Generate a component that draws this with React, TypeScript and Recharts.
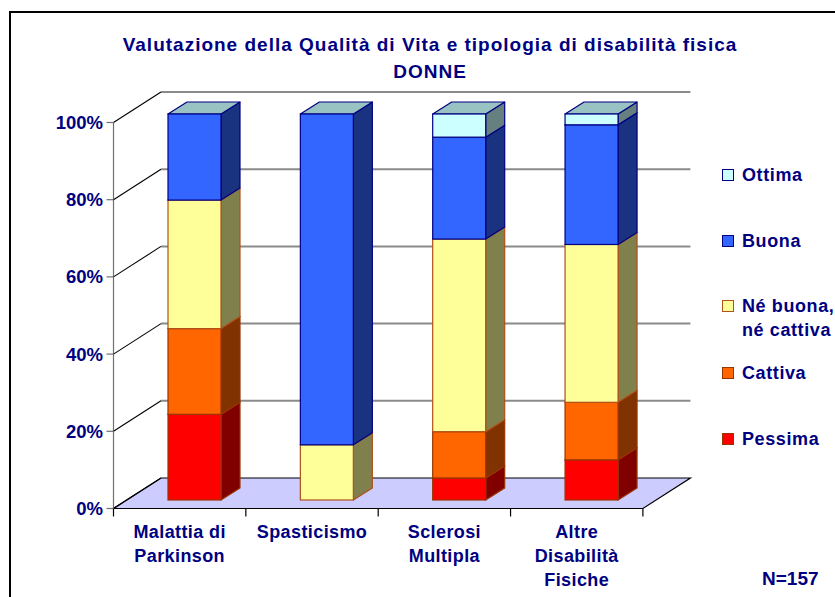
import React from 'react';
import { BarChart, Bar, XAxis, YAxis, CartesianGrid } from 'recharts';

// ---- data ----
const categories = ['Malattia di Parkinson', 'Spasticismo', 'Sclerosi Multipla', 'Altre Disabilità Fisiche'];
const categoryLines = [['Malattia di', 'Parkinson'], ['Spasticismo'], ['Sclerosi', 'Multipla'], ['Altre', 'Disabilità', 'Fisiche']];
const pessima = [22.2, 0, 5.7, 10.4];
const cattiva = [22.2, 0, 12.0, 14.9];
const neBuonaNeCattiva = [33.3, 14.3, 49.9, 40.9];
const buona = [22.3, 85.7, 26.4, 31.0];
const ottima = [0, 0, 6.0, 2.8];
const yTicks = [0, 20, 40, 60, 80, 100];
const yTickLabels = ['0%', '20%', '40%', '60%', '80%', '100%'];
const titleLine1 = 'Valutazione della Qualità di Vita e tipologia di disabilità fisica';
const titleLine2 = 'DONNE';
const sampleNote = 'N=157';

const seriesDefs = [
  { key: 'pessima', name: 'Pessima', values: pessima, front: '#FF0000', side: '#800000', stroke: '#993300' },
  { key: 'cattiva', name: 'Cattiva', values: cattiva, front: '#FF6600', side: '#803300', stroke: '#993300' },
  { key: 'ne', name: 'Né buona, né cattiva', legendLines: ['Né buona,', 'né cattiva'], values: neBuonaNeCattiva, front: '#FFFF99', side: '#80804D', stroke: '#B0501A' },
  { key: 'buona', name: 'Buona', values: buona, front: '#3366FF', side: '#1A3380', stroke: '#000080' },
  { key: 'ottima', name: 'Ottima', values: ottima, front: '#CCFFFF', side: '#668080', stroke: '#000080' },
];

const data = categories.map((c, i) => {
  const row: any = { name: c };
  seriesDefs.forEach((s) => { row[s.key] = s.values[i]; });
  return row;
});

// ---- 3D geometry offsets (relative to bar plane) ----
const FX = -14.5, FY = 8.5;   // front plane
const BX = 33, BY = -22;      // back wall plane
const DX = 19, DY = 12;       // bar depth
const TOP = '#99C2C2';
const NAVY = '#000080';
const FONT = '"Liberation Sans", Arial, sans-serif';

const make3D = (front: string, side: string, stroke: string) => (props: any) => {
  const { x, y, width, height } = props;
  if (!height || height <= 0.01) return <g />;
  const x0 = x, x1 = x + width, yt = y, yb = y + height;
  return (
    <g>
      <polygon points={`${x1},${yb} ${x1 + DX},${yb - DY} ${x1 + DX},${yt - DY} ${x1},${yt}`} fill={side} stroke={stroke} strokeWidth={1.2} strokeLinejoin="round" />
      <polygon points={`${x0},${yt} ${x0 + DX},${yt - DY} ${x1 + DX},${yt - DY} ${x1},${yt}`} fill={TOP} stroke={stroke} strokeWidth={1.2} strokeLinejoin="round" />
      <rect x={x0} y={yt} width={width} height={height} fill={front} stroke={stroke} strokeWidth={1.2} />
    </g>
  );
};

const gridLine = (props: any) => {
  const { x1, y1, x2, index } = props;
  const pts: number[] = props.horizontalPoints || [];
  const px = props.x ?? x1;
  const pw = props.width ?? (x2 - x1);
  const py = props.y ?? (pts.length ? Math.min(...pts) : y1);
  const ph = props.height ?? (pts.length ? Math.max(...pts) - Math.min(...pts) : 0);
  const bottom = py + ph;
  const isBottom = Math.abs(y1 - bottom) < 0.6;
  const n = categories.length;
  return (
    <g key={`gl-${index}`}>
      {isBottom && (
        <g>
          <polygon
            points={`${px + FX},${bottom + FY} ${px + pw + FX},${bottom + FY} ${px + pw + BX},${bottom + BY} ${px + BX},${bottom + BY}`}
            fill="#CCCCFF" stroke="#000" strokeWidth={1.2}
          />
          <line x1={px + FX} y1={py + FY} x2={px + FX} y2={bottom + FY} stroke="#707070" strokeWidth={1.2} />
          {Array.from({ length: n + 1 }).map((_, i) => (
            <line key={i} x1={px + FX + (pw * i) / n} y1={bottom + FY} x2={px + FX + (pw * i) / n} y2={bottom + FY + 8} stroke="#000" strokeWidth={1.2} />
          ))}
        </g>
      )}
      {!isBottom && (
        <line x1={px + BX} y1={y1 + BY} x2={px + pw + BX} y2={y1 + BY} stroke="#8a8a8a" strokeWidth={2} />
      )}
      <line x1={px + FX} y1={y1 + FY} x2={px + BX} y2={y1 + BY} stroke="#000" strokeWidth={1.1} />
    </g>
  );
};

const YTick = (props: any) => {
  const { x, y, payload } = props;
  const idx = yTicks.indexOf(payload.value);
  const fy = y + FY;
  return (
    <g>
      <line x1={x + FX - 7} y1={fy} x2={x + FX} y2={fy} stroke="#707070" strokeWidth={1.2} />
      <text x={x + FX - 10.5} y={fy + 6.5} textAnchor="end" fill={NAVY} fontFamily={FONT} fontWeight="bold" fontSize={18.5}>
        {yTickLabels[idx] ?? `${payload.value}%`}
      </text>
    </g>
  );
};

const XTick = (props: any) => {
  const { x, y, index } = props;
  const lines = categoryLines[index] || [props.payload.value];
  return (
    <text x={x + FX} y={y + 37.5} textAnchor="middle" fill={NAVY} fontFamily={FONT} fontWeight="bold" fontSize={18} letterSpacing={0.4}>
      {lines.map((l: string, i: number) => (
        <tspan key={i} x={x + FX} dy={i === 0 ? 0 : 24}>{l}</tspan>
      ))}
    </text>
  );
};

const legendItems = [...seriesDefs].reverse();
const legendTops = [169, 235, 300, 367, 433];

const LegendBox = () => (
  <div style={{ position: 'absolute', left: 715, top: 0, width: 130, height: 597 }}>
    {legendItems.map((s, i) => (
      <div key={s.key} style={{ position: 'absolute', left: 0, top: legendTops[i] }}>
        <div style={{ position: 'absolute', left: 7, top: 0, width: 10, height: 10, background: s.front, border: `1.5px solid ${s.stroke}` }} />
        <div style={{ position: 'absolute', left: 27, top: -6, whiteSpace: 'nowrap', color: NAVY, fontFamily: FONT, fontWeight: 'bold', fontSize: 18, letterSpacing: 0.6, lineHeight: '24px' }}>
          {(s.legendLines || [s.name]).map((l: string, j: number) => <div key={j}>{l}</div>)}
        </div>
      </div>
    ))}
  </div>
);

export default function App() {
  return (
    <div style={{ position: 'absolute', left: 0, top: 0, width: 835, height: 597, overflow: 'hidden', background: '#fff', fontFamily: FONT }}>
      <div style={{ position: 'absolute', left: 9, top: 11, width: 900, height: 700, borderTop: '2px solid #000', borderLeft: '2px solid #000', boxSizing: 'border-box' }} />
      <div style={{ position: 'absolute', left: 0, width: 860, top: 31, textAlign: 'center', color: NAVY, fontWeight: 'bold', fontSize: 19, lineHeight: '27px', letterSpacing: 1.0 }}>
        <div>{titleLine1}</div>
        <div>{titleLine2}</div>
      </div>
      <BarChart
        width={835}
        height={597}
        data={data}
        margin={{ top: 114, right: 177.6, bottom: 37, left: 68 }}
        style={{ position: 'absolute', left: 0, top: 0 }}
      >
        <CartesianGrid vertical={false} horizontal={gridLine} />
        <XAxis dataKey="name" axisLine={false} tickLine={false} tickSize={0} tickMargin={0} height={60} tick={<XTick />} interval={0} />
        <YAxis domain={[0, 100]} ticks={yTicks} interval={0} axisLine={false} tickLine={false} tickSize={0} tickMargin={0} width={60} tick={<YTick />} />
        {seriesDefs.map((s) => (
          <Bar key={s.key} dataKey={s.key} name={s.name} stackId="a" barSize={53} fill={s.front} isAnimationActive={false} shape={make3D(s.front, s.side, s.stroke)} />
        ))}
      </BarChart>
      <LegendBox />
      <div style={{ position: 'absolute', left: 762, top: 567, color: NAVY, fontWeight: 'bold', fontSize: 19, lineHeight: '24px' }}>{sampleNote}</div>
    </div>
  );
}
